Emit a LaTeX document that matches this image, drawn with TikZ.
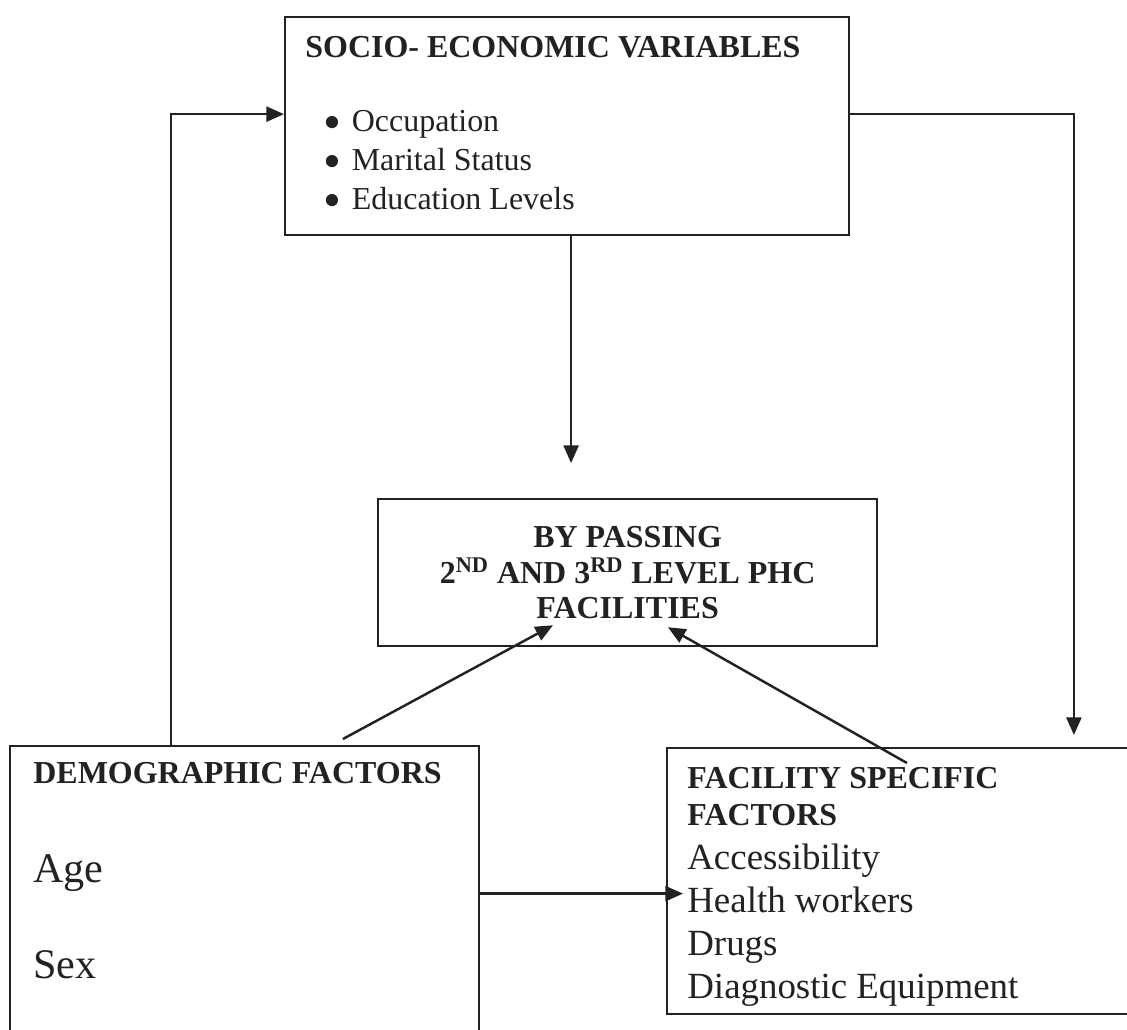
\documentclass[tikz,border=0pt]{standalone}
\usepackage{fontspec}
\setmainfont{Liberation Serif}
\usepackage{tikz}
\usetikzlibrary{arrows.meta, positioning, calc}
\definecolor{ink}{HTML}{222222}
\newcommand{\dotmark}{\raisebox{-5pt}[0pt][0pt]{\scalebox{1.6}{\textbullet}}}

\begin{document}
\begin{tikzpicture}[x=0.02cm, y=-0.02cm, >={Triangle[length=10pt,width=8.5pt]},
    box/.style={draw=ink, line width=1.3pt, rectangle, inner sep=0pt, anchor=north west},
    head/.style={text=ink, inner sep=0pt, font=\bfseries\fontsize{18.2pt}{20pt}\selectfont},
    item/.style={text=ink, inner sep=0pt, font=\fontsize{18.2pt}{22pt}\selectfont},
    bigitem/.style={text=ink, inner sep=0pt, font=\fontsize{21pt}{24pt}\selectfont},
    huge item/.style={text=ink, inner sep=0pt, font=\fontsize{24pt}{28pt}\selectfont},
    link/.style={draw=ink, line width=1.4pt, ->}]
    \useasboundingbox (0,0) rectangle (1127,1029);

    % boxes
    \node[box, minimum width=11.28cm, minimum height=4.36cm] (socio) at (284,16) {};
    \node[box, minimum width=9.98cm, minimum height=2.94cm] (bypass) at (377,498) {};
    \node[box, minimum width=9.38cm, minimum height=5.9cm] (demo) at (9,745) {};
    \node[box, minimum width=9.48cm, minimum height=5.32cm] (fac) at (666,747) {};

    % socio-economic variables
    \node[head, anchor=base west] (sociohead) at (305,57) {SOCIO- ECONOMIC VARIABLES};
    \foreach \t [count=\i] in {Occupation, Marital Status, Education Levels}
        \node[item, anchor=base west] (socio\i) at (323,{92+39*\i}) {\dotmark\hspace{0.33em}\t};

    % by passing
    \node[head, align=center] (bypasshead) at (bypass.center)
        {BY PASSING\\2\textsuperscript{ND} AND 3\textsuperscript{RD} LEVEL PHC\\FACILITIES};

    % demographic factors
    \node[head, anchor=base west] (demohead) at (33,783) {DEMOGRAPHIC FACTORS};
    \node[huge item, anchor=base west] (age) at (33,882) {Age};
    \node[huge item, anchor=base west] (sex) at (33,978) {Sex};

    % facility specific factors
    \node[head, anchor=base west] (fachead) at (687,788) {FACILITY SPECIFIC};
    \node[head, anchor=base west] (fachead2) at (687,825) {FACTORS};
    \foreach \t [count=\i] in {Accessibility, Health workers, Drugs, Diagnostic Equipment}
        \node[bigitem, anchor=base west] (fac\i) at (687,{826+43*\i}) {\t};

    % connectors
    \draw[link] ([xshift=3.24cm]demo.north west) |- ([yshift=0.24cm]socio.west);
    \draw[link, shorten >=0.24cm] ([yshift=0.24cm]socio.east) -| ([xshift=8.16cm]fac.north west);
    \draw[link, shorten >=0.7cm] ([xshift=0.08cm]socio.south) -- ([xshift=0.08cm]socio.south |- bypass.north);
    \draw[link] ([xshift=6.68cm, yshift=0.12cm]demo.north west) -- ([xshift=3.52cm, yshift=0.44cm]bypass.south west);
    \draw[link] ([xshift=4.82cm, yshift=-0.32cm]fac.north west) -- ([xshift=5.82cm, yshift=0.4cm]bypass.south west);
    \draw[link] (demo.east) -- ([xshift=0.34cm]demo.east -| fac.west);
\end{tikzpicture}
\end{document}
